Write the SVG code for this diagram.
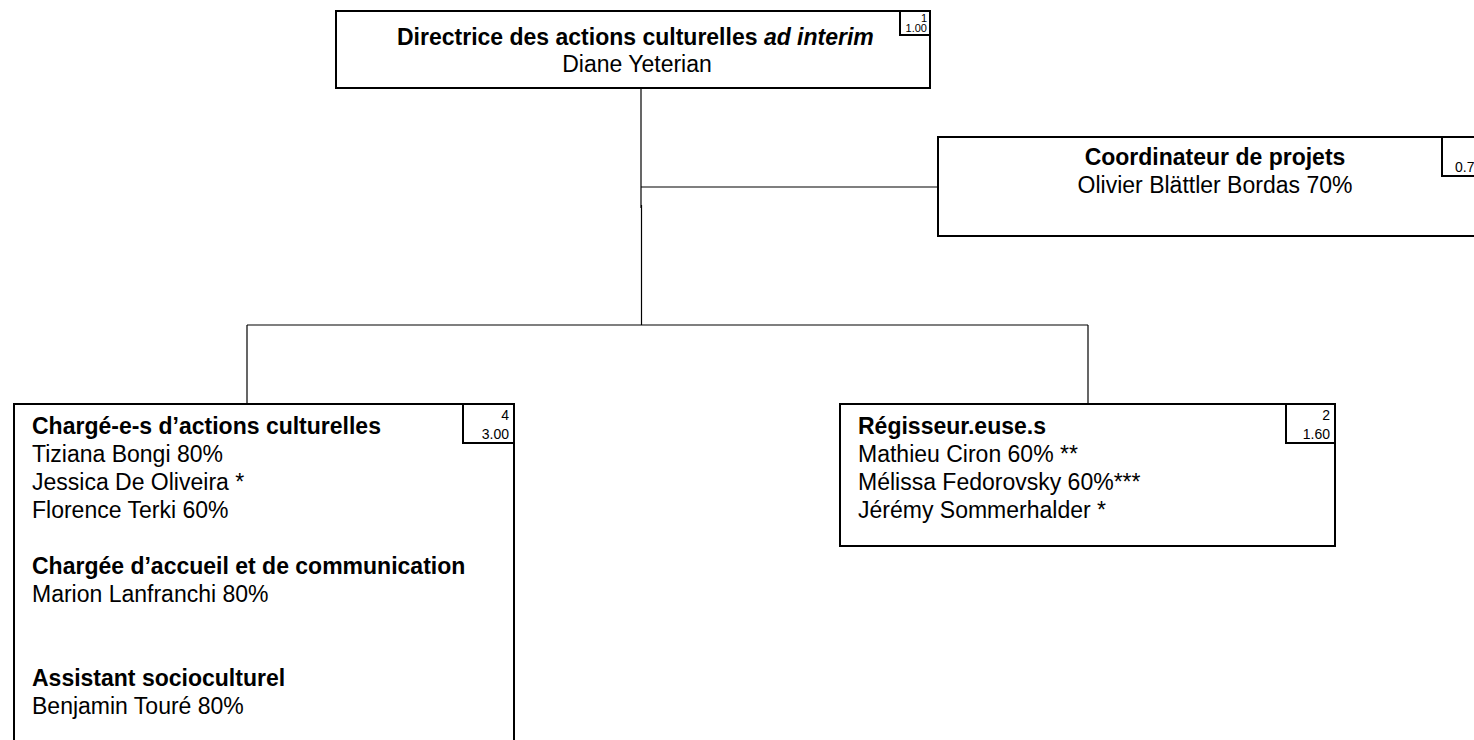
<svg xmlns="http://www.w3.org/2000/svg" width="1474" height="740" viewBox="0 0 1474 740">
<style>
.box{fill:#fff;stroke:#000;stroke-width:2}
.lbl{fill:#fff;stroke:#000;stroke-width:2}
.conn{stroke:#000;stroke-width:1.2;fill:none}
.t{font-family:"Liberation Sans",Arial,sans-serif;font-size:23px;fill:#000}
.b{font-weight:bold}
.n{font-family:"Liberation Sans",Arial,sans-serif;font-size:14px;fill:#000;text-anchor:end}
.s{font-size:11px}
</style>
<rect width="1474" height="740" fill="#fff"/>
<g id="connectors">
<line class="conn" x1="641" y1="88" x2="641" y2="208"/>
<line class="conn" x1="641.5" y1="205" x2="641.5" y2="325"/>
<line class="conn" x1="641" y1="187" x2="938" y2="187"/>
<line class="conn" x1="247" y1="325" x2="1088" y2="325"/>
<line class="conn" x1="247" y1="325" x2="247" y2="404"/>
<line class="conn" x1="1088" y1="325" x2="1088" y2="404"/>
</g>
<g id="node-directrice">
<rect class="box" x="336" y="11" width="594" height="77"/>
<rect class="lbl" x="900" y="11" width="30" height="24"/>
<text class="n s" x="927" y="22">1</text>
<text class="n s" x="927" y="32">1.00</text>
<text class="t b" x="397" y="45">Directrice des actions culturelles <tspan font-style="italic">ad interim</tspan></text>
<text class="t" x="637" y="72" text-anchor="middle">Diane Yeterian</text>
</g>
<g id="node-coordinateur">
<rect class="box" x="938" y="137" width="555" height="99"/>
<rect class="lbl" x="1442" y="137" width="51" height="39"/>
<text class="n" x="1455" y="172" style="text-anchor:start">0.70</text>
<text class="t b" x="1215" y="165" text-anchor="middle">Coordinateur de projets</text>
<text class="t" x="1215" y="193" text-anchor="middle">Olivier Blättler Bordas 70%</text>
</g>
<g id="node-charges">
<rect class="box" x="14" y="404" width="500" height="350"/>
<rect class="lbl" x="463" y="404" width="51" height="39"/>
<text class="n" x="509" y="420">4</text>
<text class="n" x="509" y="439">3.00</text>
<text class="t b" x="32" y="434">Chargé-e-s d’actions culturelles</text>
<text class="t" x="32" y="462">Tiziana Bongi 80%</text>
<text class="t" x="32" y="490">Jessica De Oliveira *</text>
<text class="t" x="32" y="518">Florence Terki 60%</text>
<text class="t b" x="32" y="574">Chargée d’accueil et de communication</text>
<text class="t" x="32" y="602">Marion Lanfranchi 80%</text>
<text class="t b" x="32" y="686">Assistant socioculturel</text>
<text class="t" x="32" y="714">Benjamin Touré 80%</text>
</g>
<g id="node-regisseurs">
<rect class="box" x="840" y="404" width="495" height="142"/>
<rect class="lbl" x="1286" y="404" width="49" height="39"/>
<text class="n" x="1330" y="420">2</text>
<text class="n" x="1330" y="439">1.60</text>
<text class="t b" x="858" y="434">Régisseur.euse.s</text>
<text class="t" x="858" y="462">Mathieu Ciron 60% **</text>
<text class="t" x="858" y="490">Mélissa Fedorovsky 60%***</text>
<text class="t" x="858" y="518">Jérémy Sommerhalder *</text>
</g>
</svg>
